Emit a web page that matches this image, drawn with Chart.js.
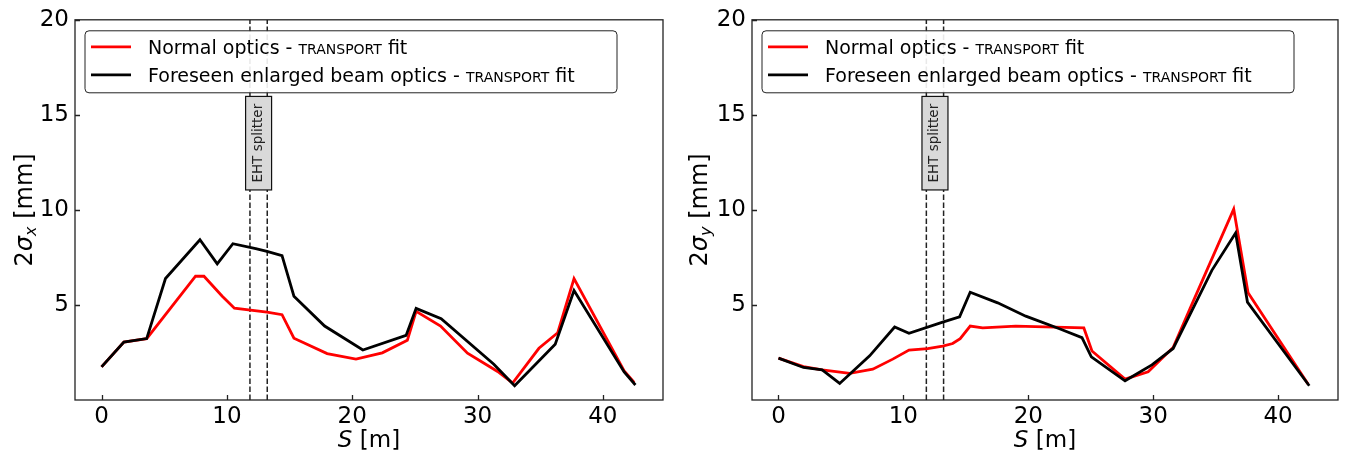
<!DOCTYPE html>
<html>
<head>
<meta charset="utf-8">
<script src="https://cdn.jsdelivr.net/npm/chart.js@4"></script>
<style>
  body { margin: 0; background: #fff; }
  #wrap { position: relative; width: 1348px; height: 458px; }
  canvas { position: absolute; top: 0; }
</style>
</head>
<body>
<div id="wrap">
  <canvas id="chartX" width="674" height="458" style="left:0"></canvas>
  <canvas id="chartY" width="674" height="458" style="left:674px"></canvas>
</div>
<script>
// beam size along the line, 2 sigma in mm, S in metres
var xRedS = [0, 1.78, 3.6, 7.5, 8.17, 9.63, 10.6, 13.2, 14.4, 15.35, 18.0, 20.3, 22.4, 24.4, 25.1, 27.05, 29.2, 31.6, 32.8, 34.9, 36.4, 37.7, 41.7, 42.5];
var xRed = [1.74, 3.05, 3.23, 6.51, 6.51, 5.46, 4.83, 4.62, 4.49, 3.25, 2.44, 2.15, 2.48, 3.14, 4.66, 3.89, 2.46, 1.5, 0.89, 2.72, 3.54, 6.39, 1.53, 0.93];
var xBlackS = [0, 1.78, 3.6, 5.1, 7.85, 9.23, 10.48, 12.3, 13.2, 14.4, 15.35, 17.8, 20.85, 24.3, 25.1, 27.1, 31.3, 32.96, 36.2, 37.7, 41.7, 42.6];
var xBlack = [1.74, 3.05, 3.23, 6.39, 8.43, 7.16, 8.22, 7.96, 7.82, 7.59, 5.46, 3.89, 2.63, 3.4, 4.82, 4.28, 1.88, 0.75, 2.93, 5.76, 1.48, 0.79];

var yRedS = [0, 2.0, 3.5, 5.7, 7.55, 9.15, 10.45, 11.95, 13.15, 13.95, 14.55, 15.35, 16.35, 19.0, 24.45, 25.1, 27.75, 29.6, 31.6, 33.1, 36.45, 37.6, 42.4];
var yRed = [2.2, 1.76, 1.59, 1.4, 1.62, 2.15, 2.63, 2.7, 2.84, 2.97, 3.23, 3.89, 3.79, 3.89, 3.79, 2.58, 1.1, 1.48, 2.76, 5.03, 10.04, 5.64, 0.84];
var yBlackS = [0, 2.0, 3.5, 4.9, 7.3, 9.3, 10.45, 13.15, 14.5, 15.35, 17.55, 19.8, 22.5, 24.3, 25.05, 27.75, 29.9, 31.6, 34.7, 36.6, 37.55, 42.5];
var yBlack = [2.2, 1.71, 1.59, 0.87, 2.32, 3.84, 3.51, 4.1, 4.38, 5.67, 5.11, 4.41, 3.75, 3.28, 2.27, 1.01, 1.85, 2.71, 6.82, 8.78, 5.15, 0.75];

var splitterS = [11.84, 13.22];
var splitterBox = [11.05, 15.97];
var sTicks = [0, 10, 20, 30, 40];
var sizeTicks = [5, 10, 15, 20];

var FONT = "'DejaVu Sans', sans-serif";

function zip(s, v) {
  var out = [];
  for (var i = 0; i < s.length; i++) {
    out.push({ x: s[i], y: v[i] });
  }
  return out;
}

function drawPieces(ctx, pieces, x, y) {
  // pieces: [text, font, dy]
  var total = 0;
  for (var i = 0; i < pieces.length; i++) {
    ctx.font = pieces[i][1];
    total += ctx.measureText(pieces[i][0]).width;
  }
  var cx = x - total / 2;
  for (var j = 0; j < pieces.length; j++) {
    ctx.font = pieces[j][1];
    ctx.fillText(pieces[j][0], cx, y + (pieces[j][2] || 0));
    cx += ctx.measureText(pieces[j][0]).width;
  }
}

var decor = {
  id: 'decor',
  afterDatasetsDraw: function (chart) {
    var ctx = chart.ctx;
    var a = chart.chartArea;
    var xs = chart.scales.x, ys = chart.scales.y;
    ctx.save();

    // EHT splitter box
    var mid = xs.getPixelForValue((splitterS[0] + splitterS[1]) / 2);
    var top = ys.getPixelForValue(splitterBox[1]);
    var bot = ys.getPixelForValue(splitterBox[0]);
    ctx.fillStyle = '#d9d9d9';
    ctx.strokeStyle = '#111';
    ctx.lineWidth = 1.2;
    ctx.fillRect(mid - 13, top, 26, bot - top);
    ctx.strokeRect(mid - 13, top, 26, bot - top);
    ctx.translate(mid, (top + bot) / 2);
    ctx.rotate(-Math.PI / 2);
    ctx.fillStyle = '#222';
    ctx.font = '13.5px ' + FONT;
    ctx.textAlign = 'center';
    ctx.textBaseline = 'middle';
    ctx.fillText('EHT splitter', 0, 0);
    ctx.setTransform(1, 0, 0, 1, 0, 0);

    // legend
    var lx = a.left + 10, ly = a.top + 11, lw = 532, lh = 62;
    ctx.beginPath();
    ctx.roundRect(lx, ly, lw, lh, 4);
    ctx.fillStyle = 'rgba(255,255,255,0.9)';
    ctx.fill();
    ctx.strokeStyle = '#222';
    ctx.lineWidth = 1;
    ctx.stroke();
    var rows = [
      ['#ff0000', 'Normal optics - '],
      ['#000000', 'Foreseen enlarged beam optics - ']
    ];
    ctx.textAlign = 'left';
    ctx.textBaseline = 'alphabetic';
    for (var r = 0; r < rows.length; r++) {
      var cy = ly + 16 + r * 28;
      ctx.strokeStyle = rows[r][0];
      ctx.lineWidth = 2.8;
      ctx.beginPath();
      ctx.moveTo(lx + 6, cy);
      ctx.lineTo(lx + 46, cy);
      ctx.stroke();
      ctx.fillStyle = '#000';
      var tx = lx + 63, base = cy + 7;
      ctx.font = '19px ' + FONT;
      ctx.fillText(rows[r][1], tx, base);
      tx += ctx.measureText(rows[r][1]).width;
      ctx.font = '14px ' + FONT;
      ctx.fillText('TRANSPORT', tx, base);
      tx += ctx.measureText('TRANSPORT').width;
      ctx.font = '19px ' + FONT;
      ctx.fillText(' fit', tx, base);
    }
    ctx.restore();
  },
  afterDraw: function (chart) {
    var ctx = chart.ctx;
    var a = chart.chartArea;
    var xs = chart.scales.x, ys = chart.scales.y;
    var sub = chart.options.plugins.decor.sub;
    ctx.save();
    ctx.strokeStyle = '#222';
    ctx.lineWidth = 1.3;
    ctx.strokeRect(a.left, a.top, a.right - a.left, a.bottom - a.top);
    ctx.beginPath();
    sTicks.forEach(function (v) {
      var px = Math.round(xs.getPixelForValue(v)) + 0.5;
      ctx.moveTo(px, a.bottom);
      ctx.lineTo(px, a.bottom - 5);
    });
    sizeTicks.forEach(function (v) {
      var py = Math.round(ys.getPixelForValue(v)) + 0.5;
      ctx.moveTo(a.left, py);
      ctx.lineTo(a.left + 5, py);
    });
    ctx.stroke();

    ctx.fillStyle = '#000';
    ctx.textBaseline = 'alphabetic';
    drawPieces(ctx, [
      ['S', 'italic 23px ' + FONT, 0],
      [' [m]', '23px ' + FONT, 0]
    ], (a.left + a.right) / 2, 447);

    ctx.translate(chart.options.plugins.decor.titleX, (a.top + a.bottom) / 2);
    ctx.rotate(-Math.PI / 2);
    drawPieces(ctx, [
      ['2', '24px ' + FONT, 0],
      ['\u03c3', 'italic 24px ' + FONT, 0],
      [sub, 'italic 16px ' + FONT, 4],
      [' [mm]', '24px ' + FONT, 0]
    ], 0, 0);
    ctx.restore();
  }
};

function makeChart(id, redS, red, blackS, black, sub, yWidth, padRight, titleX) {
  return new Chart(document.getElementById(id), {
    type: 'line',
    data: {
      datasets: [
        {
          label: 'Foreseen enlarged beam optics - TRANSPORT fit',
          data: zip(blackS, black),
          borderColor: '#000000',
          borderWidth: 2.8,
          pointRadius: 0,
          tension: 0,
          order: 1
        },
        {
          label: 'Normal optics - TRANSPORT fit',
          data: zip(redS, red),
          borderColor: '#ff0000',
          borderWidth: 2.8,
          pointRadius: 0,
          tension: 0,
          order: 2
        },
        {
          label: 'splitter a',
          data: [{ x: splitterS[0], y: 0 }, { x: splitterS[0], y: 20 }],
          borderColor: '#222',
          borderWidth: 1.5,
          borderDash: [5.5, 2.5],
          pointRadius: 0,
          order: 3
        },
        {
          label: 'splitter b',
          data: [{ x: splitterS[1], y: 0 }, { x: splitterS[1], y: 20 }],
          borderColor: '#222',
          borderWidth: 1.5,
          borderDash: [5.5, 2.5],
          pointRadius: 0,
          order: 3
        }
      ]
    },
    options: {
      responsive: false,
      animation: false,
      layout: { padding: { top: 18, left: 0, right: padRight, bottom: 0 } },
      plugins: {
        legend: { display: false },
        tooltip: { enabled: false },
        decor: { sub: sub, titleX: titleX }
      },
      scales: {
        x: {
          type: 'linear',
          min: -2.12,
          max: 44.8,
          afterBuildTicks: function (s) {
            s.ticks = sTicks.map(function (v) { return { value: v }; });
          },
          afterFit: function (s) { s.height = 58; },
          grid: { display: false, drawTicks: false },
          border: { display: false },
          ticks: { font: { family: FONT, size: 23 }, color: '#000', padding: 3, maxRotation: 0 }
        },
        y: {
          min: 0,
          max: 20,
          afterBuildTicks: function (s) {
            s.ticks = sizeTicks.map(function (v) { return { value: v }; });
          },
          afterFit: function (s) { s.width = yWidth; },
          grid: { display: false, drawTicks: false },
          border: { display: false },
          ticks: { font: { family: FONT, size: 23 }, color: '#000', padding: 6 }
        }
      }
    },
    plugins: [decor]
  });
}

makeChart('chartX', xRedS, xRed, xBlackS, xBlack, 'x', 75, 11, 32);
makeChart('chartY', yRedS, yRed, yBlackS, yBlack, 'y', 78, 10, 33);
</script>
</body>
</html>
